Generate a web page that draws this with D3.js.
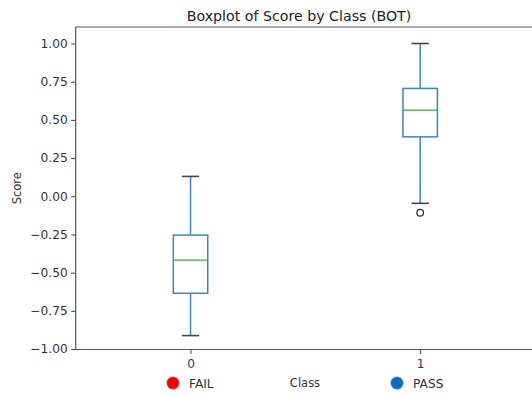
<!DOCTYPE html>
<html>
<head>
<meta charset="utf-8">
<script src="https://cdn.jsdelivr.net/npm/d3@7"></script>
<style>
  html, body { margin: 0; padding: 0; background: #ffffff; }
  svg { display: block; font-family: "DejaVu Sans", sans-serif; }
</style>
</head>
<body>
<svg id="chart" width="532" height="395"></svg>
<script>
// ---- data ----
const categories = ["0", "1"];
const whiskerLow  = [-0.912, -0.046];
const q1          = [-0.635, 0.389];
const medians     = [-0.418, 0.564];
const q3          = [-0.254, 0.706];
const whiskerHigh = [0.130, 1.000];
const outliers    = [[], [-0.108]];
const yTicks = [-1.0, -0.75, -0.5, -0.25, 0.0, 0.25, 0.5, 0.75, 1.0];
const legendLabels = ["FAIL", "PASS"];
const legendColors = ["#ff0000", "#0b6cc1"];

const chartTitle = "Boxplot of Score by Class (BOT)";
const xLabel = "Class";
const yLabel = "Score";

// ---- layout ----
const svg = d3.select("#chart");
const pLeft = 75.7, pRight = 535, pTop = 27, pBottom = 349.5;

const x = d3.scaleLinear().domain([0.5, 2.5]).range([pLeft, pRight]);
const y = d3.scaleLinear().domain([-1.003, 1.108]).range([pBottom, pTop]);

const boxW = x(0.5 + 0.15) - x(0.5);
const capW = boxW / 2;
const textCol = "#333333";

// axes
const yAxis = d3.axisLeft(y).tickValues(yTicks).tickFormat(d3.format(".2f")).tickSize(4.5).tickPadding(3.5);
const gy = svg.append("g").attr("transform", `translate(${pLeft},0)`).call(yAxis);
gy.select(".domain").remove();
gy.selectAll("line").attr("stroke", "#444").attr("stroke-width", 1);
gy.selectAll("text").attr("font-size", 12.2).attr("fill", textCol).attr("font-family", "DejaVu Sans, sans-serif");

const xAxis = d3.axisBottom(x).tickValues([1, 2]).tickFormat((d, i) => categories[i]).tickSize(4.5).tickPadding(5);
const gx = svg.append("g").attr("transform", `translate(0,${pBottom})`).call(xAxis);
gx.select(".domain").remove();
gx.selectAll("line").attr("stroke", "#444").attr("stroke-width", 1);
gx.selectAll("text").attr("font-size", 12.2).attr("fill", textCol).attr("font-family", "DejaVu Sans, sans-serif");

// spines
const spine = svg.append("g").attr("stroke", "#555").attr("stroke-width", 1.2).attr("fill", "none");
spine.append("line").attr("x1", pLeft).attr("x2", pRight).attr("y1", pTop).attr("y2", pTop);
spine.append("line").attr("x1", pLeft).attr("x2", pRight).attr("y1", pBottom).attr("y2", pBottom);
spine.append("line").attr("x1", pLeft).attr("x2", pLeft).attr("y1", pTop).attr("y2", pBottom);
spine.append("line").attr("x1", pRight).attr("x2", pRight).attr("y1", pTop).attr("y2", pBottom);

// boxes
const g = svg.append("g");
const blue = "#3a87c0";
categories.forEach((c, i) => {
  const cx = x(i + 1);
  g.append("line").attr("x1", cx).attr("x2", cx).attr("y1", y(q3[i])).attr("y2", y(whiskerHigh[i]))
    .attr("stroke", blue).attr("stroke-width", 1.5);
  g.append("line").attr("x1", cx).attr("x2", cx).attr("y1", y(q1[i])).attr("y2", y(whiskerLow[i]))
    .attr("stroke", blue).attr("stroke-width", 1.5);
  [whiskerHigh[i], whiskerLow[i]].forEach(v => {
    g.append("line").attr("x1", cx - capW / 2).attr("x2", cx + capW / 2).attr("y1", y(v)).attr("y2", y(v))
      .attr("stroke", "#444").attr("stroke-width", 1.6);
  });
  g.append("rect").attr("x", cx - boxW / 2).attr("width", boxW)
    .attr("y", y(q3[i])).attr("height", y(q1[i]) - y(q3[i]))
    .attr("fill", "none").attr("stroke", blue).attr("stroke-width", 1.5);
  g.append("line").attr("x1", cx - boxW / 2).attr("x2", cx + boxW / 2).attr("y1", y(medians[i])).attr("y2", y(medians[i]))
    .attr("stroke", "#3aad3a").attr("stroke-width", 1.4);
  outliers[i].forEach(v => {
    g.append("circle").attr("cx", cx).attr("cy", y(v)).attr("r", 3.3)
      .attr("fill", "none").attr("stroke", "#333").attr("stroke-width", 1.3);
  });
});

// title and labels
svg.append("text").attr("x", 299).attr("y", 20.5).attr("text-anchor", "middle")
  .attr("font-size", 14.2).attr("fill", "#222").text(chartTitle);
svg.append("text").attr("transform", `translate(21,${(pTop + pBottom) / 2}) rotate(-90)`).attr("text-anchor", "middle")
  .attr("font-size", 11.5).attr("fill", textCol).text(yLabel);
svg.append("text").attr("x", 305).attr("y", 387).attr("text-anchor", "middle")
  .attr("font-size", 11.5).attr("fill", textCol).text(xLabel);

// legend
const legendX = [173, 397];
legendLabels.forEach((lab, i) => {
  svg.append("circle").attr("cx", legendX[i]).attr("cy", 383).attr("r", 6.3)
    .attr("fill", legendColors[i]).attr("stroke", "#9aa3b5").attr("stroke-width", 0.6);
  svg.append("text").attr("x", legendX[i] + 16).attr("y", 387.5)
    .attr("font-size", 12.2).attr("fill", textCol).text(lab);
});
</script>
</body>
</html>
